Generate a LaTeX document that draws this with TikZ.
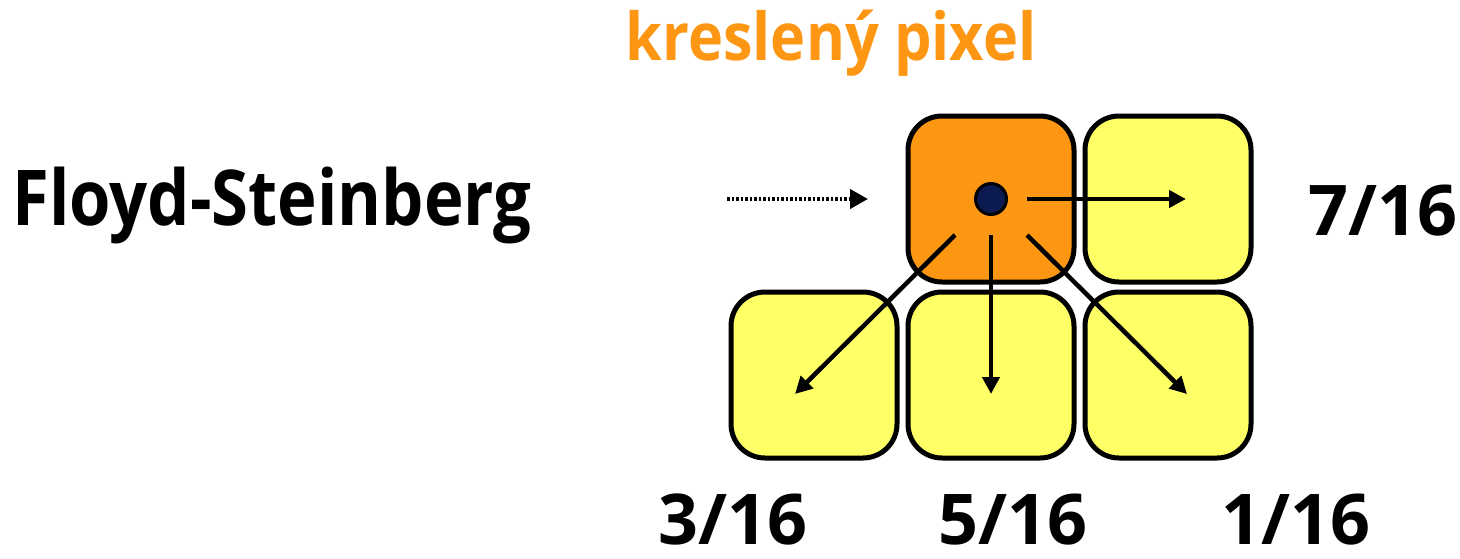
\documentclass[tikz,border=0pt]{standalone}
\usepackage{fontspec}
\setmainfont{Open Sans}
\usetikzlibrary{arrows.meta}
\definecolor{pxorange}{HTML}{FD9612}
\definecolor{pxyellow}{HTML}{FFFF66}
\definecolor{dotnavy}{HTML}{0B1A50}
\begin{document}
\begin{tikzpicture}[x=1pt,y=-1pt,
  cell/.style={draw=black,line width=5pt,rounded corners=34pt,minimum width=166pt,minimum height=166pt,inner sep=0pt},
  lbl/.style={font=\fontsize{70}{70}\selectfont\bfseries,text=black,inner sep=0pt,anchor=base},
  arr/.style={line width=4.5pt,-{Triangle[length=17pt,width=17pt]}},
]
\useasboundingbox (0,0) rectangle (1460,558);
\node[cell,fill=pxorange] (c) at (991,199) {};
\node[cell,fill=pxyellow] (r) at (1168,199) {};
\node[cell,fill=pxyellow] (bl) at (814,375) {};
\node[cell,fill=pxyellow] (b) at (991,375) {};
\node[cell,fill=pxyellow] (br) at (1168,375) {};
\node[circle,draw=black,line width=3pt,fill=dotnavy,minimum size=31pt,inner sep=0pt] (dot) at (991,199) {};
\coordinate (sR) at (1027,199); \coordinate (tR) at (1186,199);
\coordinate (sL) at (955,235); \coordinate (tL) at (795,394);
\coordinate (sD) at (991,235); \coordinate (tD) at (991,394);
\coordinate (sB) at (1027,235); \coordinate (tB) at (1187,394);
\draw[arr] (sR) -- (tR);
\draw[arr] (sL) -- (tL);
\draw[arr] (sD) -- (tD);
\draw[arr] (sB) -- (tB);
\coordinate (dS) at (727,199); \coordinate (dT) at (868,199);
\draw[line width=4pt,dash pattern=on 2.5pt off 2pt,-{Triangle[length=18pt,width=19pt]}] (dS) -- (dT);
\node[lbl,font=\fontsize{77}{77}\selectfont\bfseries] (fs) at (272,225) {\scalebox{0.87}[1]{Floyd-Steinberg}};
\node[lbl,text=pxorange,font=\fontsize{66}{66}\selectfont\bfseries] (kp) at (831,60) {\scalebox{0.9}[1]{kreslený pixel}};
\node[lbl] (l7) at (1383,235) {7/16};
\node[lbl] (l3) at (733,544) {3/16};
\node[lbl] (l5) at (1013,544) {5/16};
\node[lbl] (l1) at (1296,544) {1/16};
\end{tikzpicture}
\end{document}
